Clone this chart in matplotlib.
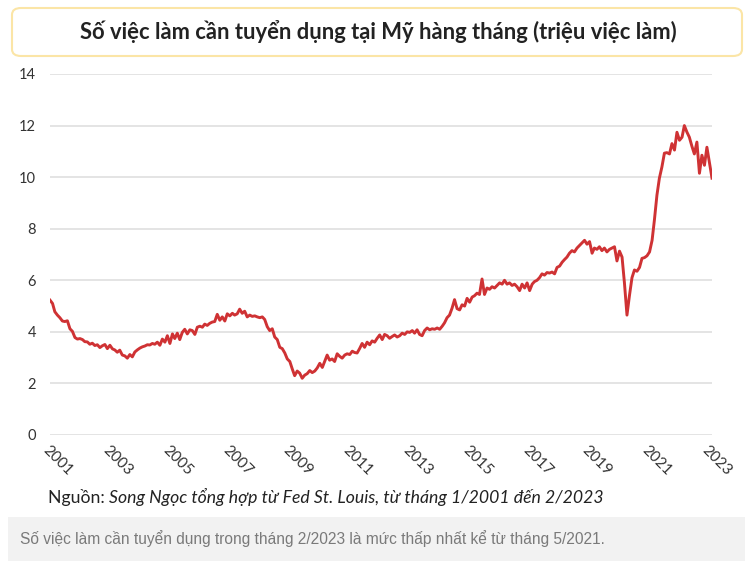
import matplotlib.pyplot as plt
import matplotlib.dates as mdates
import pandas as pd
from matplotlib.patches import FancyBboxPatch, Rectangle

plt.rcParams['font.family'] = ['Lato', 'DejaVu Sans']

# monthly job openings, millions, Jan 2001 .. Feb 2023
openings = [
    5.23, 5.10, 4.78, 4.65, 4.55, 4.42, 4.40, 4.43, 4.12, 4.02, 3.78, 3.72,  # 2001
    3.74, 3.70, 3.62, 3.61, 3.52, 3.56, 3.47, 3.50, 3.39, 3.46, 3.51, 3.35,  # 2002
    3.48, 3.34, 3.30, 3.21, 3.29, 3.10, 3.07, 2.98, 3.12, 3.03, 3.22, 3.30,  # 2003
    3.37, 3.42, 3.45, 3.50, 3.49, 3.55, 3.52, 3.60, 3.48, 3.72, 3.60, 3.85,  # 2004
    3.55, 3.92, 3.74, 3.95, 3.70, 3.98, 4.10, 3.92, 4.08, 4.05, 3.90, 4.18,  # 2005
    4.22, 4.18, 4.30, 4.25, 4.33, 4.38, 4.40, 4.68, 4.45, 4.58, 4.42, 4.70,  # 2006
    4.62, 4.72, 4.65, 4.70, 4.88, 4.72, 4.80, 4.58, 4.65, 4.60, 4.62, 4.58,  # 2007
    4.55, 4.58, 4.48, 4.20, 4.05, 4.12, 3.80, 3.70, 3.40, 3.35, 3.18, 2.95,  # 2008
    2.85, 2.55, 2.30, 2.48, 2.40, 2.20, 2.32, 2.38, 2.50, 2.42, 2.48, 2.60,  # 2009
    2.78, 2.62, 2.85, 3.10, 2.90, 2.95, 2.85, 3.15, 3.05, 2.98, 3.10, 3.15,  # 2010
    3.12, 3.25, 3.20, 3.18, 3.35, 3.55, 3.40, 3.60, 3.50, 3.65, 3.60, 3.75,  # 2011
    3.88, 3.70, 3.90, 3.85, 3.75, 3.82, 3.88, 3.80, 3.85, 3.95, 3.90, 4.00,  # 2012
    3.98, 4.05, 3.95, 4.08, 3.90, 3.85, 4.05, 4.15, 4.08, 4.12, 4.10, 4.15,  # 2013
    4.10, 4.22, 4.35, 4.55, 4.65, 4.92, 5.25, 4.90, 4.85, 5.05, 5.00, 5.30,  # 2014
    5.15, 5.35, 5.40, 5.50, 5.45, 6.05, 5.45, 5.70, 5.65, 5.75, 5.70, 5.80,  # 2015
    5.90, 5.85, 6.00, 5.85, 5.90, 5.80, 5.85, 5.75, 5.60, 5.85, 5.70, 5.90,  # 2016
    5.60, 5.85, 5.95, 6.00, 6.10, 6.25, 6.20, 6.30, 6.28, 6.32, 6.25, 6.50,  # 2017
    6.55, 6.70, 6.80, 6.90, 7.05, 7.15, 7.10, 7.25, 7.35, 7.45, 7.55, 7.40,  # 2018
    7.50, 7.05, 7.25, 7.20, 7.30, 7.15, 7.25, 7.10, 7.20, 7.25, 7.30, 6.75,  # 2019
    7.13, 6.90, 5.90, 4.65, 5.40, 6.10, 6.40, 6.35, 6.50, 6.85, 6.88, 6.95,  # 2020
    7.10, 7.55, 8.33, 9.30, 9.96, 10.40, 10.93, 10.95, 10.90, 11.30, 11.05, 11.74,  # 2021
    11.43, 11.55, 12.00, 11.75, 11.55, 11.20, 10.90, 11.36, 10.15, 10.85, 10.46, 11.16,  # 2022
    10.55, 9.96,  # 2023
]
months = pd.date_range('2001-01-01', periods=len(openings), freq='MS')
tick_years = list(range(2001, 2024, 2))
y_ticks = [0, 2, 4, 6, 8, 10, 12, 14]

title = 'Số việc làm cần tuyển dụng tại Mỹ hàng tháng (triệu việc làm)'
source_label = 'Nguồn: '
source_text = 'Song Ngọc tổng hợp từ Fed St. Louis, từ tháng 1/2001 đến 2/2023'
caption = 'Số việc làm cần tuyển dụng trong tháng 2/2023 là mức thấp nhất kể từ tháng 5/2021.'

fig = plt.figure(figsize=(7.56, 5.61), dpi=100)
ax = fig.add_axes([50 / 756, 1 - 435 / 561, 662 / 756, 361 / 561])

ax.plot(months, openings, color='#cf3234', lw=2.1, solid_joinstyle='round')
ax.set_xlim(months[0], months[-1])
ax.set_ylim(0, 14)
ax.set_yticks(y_ticks)
ax.yaxis.grid(True, color='#e4e4e4', lw=1.4)
ax.set_axisbelow(True)
for s in ax.spines.values():
    s.set_visible(False)

ax.set_xticks([pd.Timestamp(f'{y}-01-01') for y in tick_years])
ax.xaxis.set_major_formatter(mdates.DateFormatter('%Y'))
ax.tick_params(axis='both', length=0, labelsize=10.5, colors='#333333')
ax.tick_params(axis='x', labelsize=11, pad=6)
ax.tick_params(axis='y', pad=10)
for lbl in ax.get_xticklabels():
    lbl.set_rotation(-45)
    lbl.set_ha('left')
    lbl.set_va('top')
    lbl.set_rotation_mode('anchor')

# title box
fig.patches.append(FancyBboxPatch((12 / 756, 1 - 56 / 561), 730 / 756, 48 / 561,
                                  boxstyle='round,pad=0,rounding_size=0.012',
                                  transform=fig.transFigure, facecolor='white',
                                  edgecolor='#fbe5a6', lw=1.5))
fig.text(0.5, 1 - 32 / 561, title, ha='center', va='center', fontsize=15.8,
         fontweight='bold', color='#222222')

# source line
src = fig.text(48 / 756, 1 - 497 / 561, source_label, ha='left', va='center',
               fontsize=12.7, color='#222222')
fig.canvas.draw()
bb = src.get_window_extent()
fig.text(bb.x1 / fig.bbox.width, 1 - 497 / 561, source_text, ha='left', va='center',
         fontsize=12.7, style='italic', color='#222222')

# caption box
fig.patches.append(Rectangle((8 / 756, 0), 737 / 756, 44 / 561,
                             transform=fig.transFigure, facecolor='#f2f2f2',
                             edgecolor='none'))
fig.text(20 / 756, 1 - 539 / 561, caption, ha='left', va='center', fontsize=11.2,
         color='#7a7a7a', family=['Liberation Sans', 'DejaVu Sans'])

fig.savefig('out.png', dpi=100)
